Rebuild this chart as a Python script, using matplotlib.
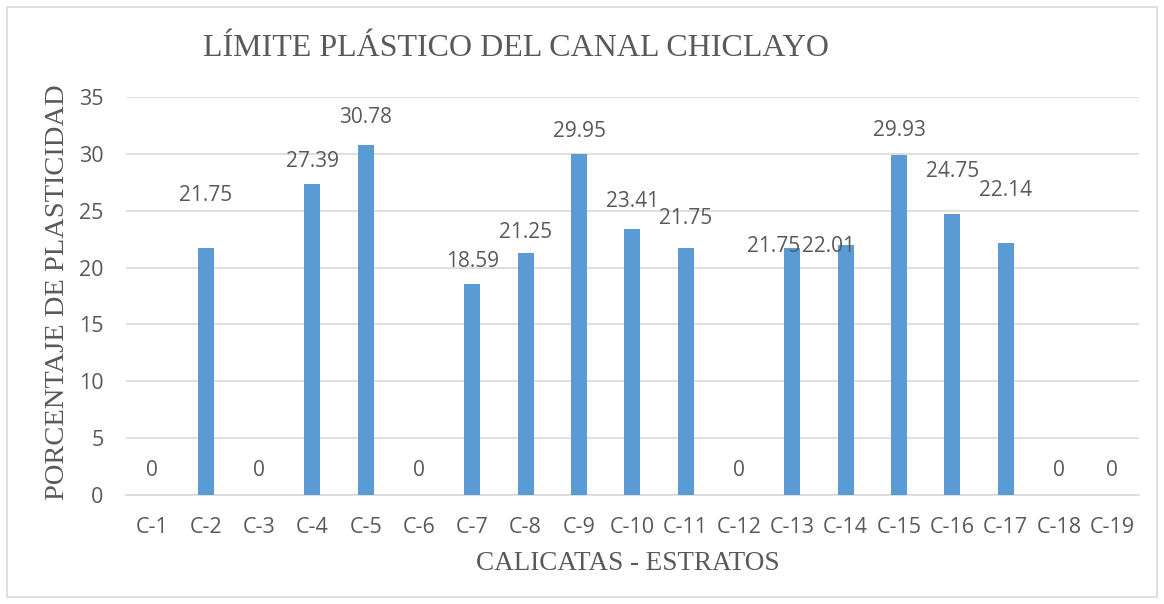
import numpy as np
import matplotlib
matplotlib.use("Agg")
import matplotlib.pyplot as plt
from matplotlib.patches import Rectangle

categorias = ["C-%d" % i for i in range(1, 20)]
limite_plastico = [0, 21.75, 0, 27.39, 30.78, 0, 18.59, 21.25, 29.95, 23.41,
                   21.75, 0, 21.75, 22.01, 29.93, 24.75, 22.14, 0, 0]
etiquetas = ["0", "21.75", "0", "27.39", "30.78", "0", "18.59", "21.25", "29.95", "23.41",
             "21.75", "0", "21.75", "22.01", "29.93", "24.75", "22.14", "0", "0"]

# label offsets from top of bar (pixels), labels were moved by hand in the original
dx_px = [0, 0, 0, 0, 0, 0, 0, 0, 0, 0, 0, 0, -19, -17, 0, 0, 0, 0, 0]
dy_px = [25, 52, 25, 22, 27, 25, 22, 21, 23, 27, 29, 25, 1, -2, 24, 42, 53, 25, 25]

gris = "#595959"
azul = "#5B9BD5"

fig = plt.figure(figsize=(11.64, 6.04), dpi=100)
fig.patches.append(Rectangle((7 / 1164, 1 - 597 / 604), 1150 / 1164, 590 / 604,
                             transform=fig.transFigure, fill=False,
                             edgecolor="#D9D9D9", linewidth=1.2))
ax = fig.add_axes([125.7 / 1164, 1 - 495 / 604, 1013.3 / 1164, 398 / 604])

x = np.arange(len(categorias))
ax.bar(x, limite_plastico, width=0.3, color=azul, zorder=3)

for i, v in enumerate(limite_plastico):
    ax.annotate(etiquetas[i], (x[i], v), xytext=(dx_px[i] * 0.72, dy_px[i] * 0.72),
                textcoords="offset points", ha="center", va="center",
                fontsize=15, color=gris, family="Open Sans")

ax.set_xlim(-0.5, len(categorias) - 0.5)
ax.set_ylim(0, 35)
ax.set_yticks(range(0, 36, 5))
ax.set_yticklabels([str(t) for t in range(0, 36, 5)], fontsize=15.5,
                   family="Open Sans", color=gris)
ax.set_xticks(x)
ax.set_xticklabels(categorias, fontsize=15.5, family="Open Sans", color=gris)
ax.grid(axis="y", color="#D9D9D9", linewidth=1.2, zorder=0)
for s in ["top", "right", "left"]:
    ax.spines[s].set_visible(False)
ax.spines["bottom"].set_color("#D9D9D9")
ax.spines["bottom"].set_linewidth(1.2)
ax.tick_params(length=0)
ax.tick_params(axis="x", pad=16)
ax.tick_params(axis="y", pad=16)

fig.text(516 / 1164, 1 - 48 / 604, "LÍMITE PLÁSTICO DEL CANAL CHICLAYO",
         ha="center", va="center", fontsize=23, color=gris, family="Liberation Serif")
fig.text(58 / 1164, 1 - 292 / 604, "PORCENTAJE DE PLASTICIDAD", rotation=90,
         ha="center", va="center", fontsize=20.5, color=gris, family="Liberation Serif")
fig.text(628 / 1164, 1 - 563 / 604, "CALICATAS - ESTRATOS",
         ha="center", va="center", fontsize=19.5, color=gris, family="Liberation Serif")

fig.savefig("out.png", dpi=100)
